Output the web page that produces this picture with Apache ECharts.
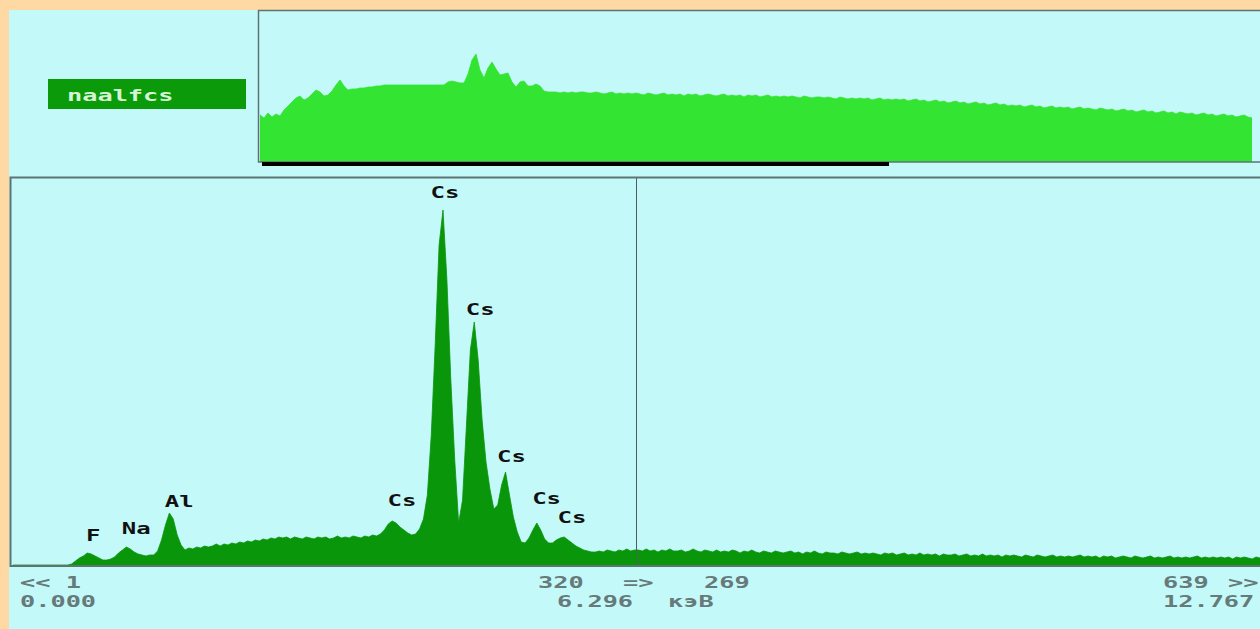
<!DOCTYPE html>
<html><head><meta charset="utf-8">
<script src="https://cdn.jsdelivr.net/npm/echarts@6/dist/echarts.min.js"></script>
<style>
html,body{margin:0;padding:0;background:#FFD9A4;}
#wrap{position:relative;width:1260px;height:629px;background:#FFD9A4;overflow:hidden}
#panel{position:absolute;left:9px;top:10px;width:1251px;height:619px;background:#C4F9F9}
#chart{position:absolute;left:0;top:0;width:1260px;height:629px}
</style></head><body>
<div id="wrap"><div id="panel"></div><div id="chart"></div></div>
<script>
// ---- data ----
const spectrumName = 'naalfcs';
const channelStep = 2;          // one value per 2 channels, channel 1..639
const mainCounts = [
 0,0,0,0,0,0,0,0,0,0,
 0,0,0,0,0,1,4,7,9,12,
 11,9,7,5,5,6,8,12,15,18,
 16,13,11,10,9,10,10,14,25,40,
 52,46,30,20,15,17,16,18,17,19,
 18,19,21,19,21,20,22,21,23,22,
 24,23,25,24,26,25,27,26,28,27,
 28,26,28,27,26,28,27,26,28,27,
 28,26,27,29,27,28,27,29,28,27,
 29,28,30,29,31,35,41,44,42,38,
 35,32,30,31,36,46,70,130,220,320,
 355,285,185,105,42,65,140,215,243,205,
 145,103,76,56,60,80,93,70,48,33,
 23,22,27,35,42,35,26,22,22,25,
 27,28,25,22,19,17,15,14,13,13,
 14,13,15,14,13,15,14,16,14,15,
 15,14,16,14,15,13,15,14,16,14,
 14,15,13,14,16,14,13,15,14,13,
 15,13,14,13,15,14,12,14,13,15,
 13,12,14,13,12,14,13,12,13,14,
 12,13,11,13,12,14,12,11,13,12,
 12,11,13,12,11,12,13,11,12,11,
 12,11,10,12,11,12,10,11,12,10,
 11,10,12,10,11,10,11,9,11,10,
 10,11,9,10,11,9,10,9,11,9,
 10,9,10,8,10,9,10,9,8,10,
 9,8,10,9,8,9,10,8,9,8,
 9,8,9,10,8,9,8,9,7,9,
 8,9,7,8,9,8,7,9,8,7,
 8,9,7,8,7,8,9,7,8,7,
 8,7,8,9,7,8,7,8,7,8,
 7,8,6,8,7,8,7,6,8,7
];
const overviewCounts = [
 47,44,49,45,48,46,
 52,56,60,64,66,
 62,64,68,72,70,66,67,71,77,
 82,76,72,73,73,74,74,75,75,76,76,
 77,77,77,77,77,77,77,77,77,77,77,77,77,77,77,77,
 80,81,80,79,79,
 88,102,108,92,84,94,100,93,87,88,89,
 80,75,80,81,76,76,78,76,71,70,
 70,70,69,70,69,70,69,70,70,69,
 69,70,69,68,69,70,68,69,68,69,
 68,69,68,67,69,68,67,68,69,67,
 68,67,68,66,68,67,68,66,67,68,
 67,66,67,68,66,67,66,67,65,67,
 66,67,65,66,67,65,66,65,66,65,
 66,65,64,66,65,64,65,65,
 64,65,64,63,65,64,63,64,63,64,
 63,64,62,63,64,62,63,62,63,62,
 63,61,62,63,61,62,60,61,62,60,
 61,59,60,61,59,60,58,59,60,58,
 59,57,58,59,57,58,56,57,56,57,
 55,56,57,55,56,54,55,56,54,55,
 54,55,53,54,55,53,54,53,52,54,
 53,52,53,51,52,53,51,52,50,51,
 52,50,51,49,50,51,49,50,48,50,
 49,48,49,47,48,49,47,48,46,47,
 48,46,47,45,46,47,45,44
];
const peakLabels        = ['F','Na','Al','Cs','Cs','Cs','Cs','Cs','Cs'];
const peakLabelChannels = [42, 64, 86, 200, 222, 240, 256, 274, 287];
const peakLabelLevels   = [29, 36, 63, 64, 372, 255, 108, 66, 47];
const markerChannel = 320;
const channelTickLabels = ['<< 1','320','=>','269','639','>>'];
const energyTickLabels  = ['0.000','6.296','кэВ','12.767'];

// ---- layout / style ----
const FONT = 'bold 16px "DejaVu Sans Mono", "Liberation Mono", monospace';
const SX = 1.58;
const grayText = '#667A7A';
const border = '#5C7474';
const chLeft = [20, 538, 623, 704, 1163, 1228];
const enLeft = [20, 557, 668, 1163];

function txt(t, x, y, fill, align){
  return {type:'text', x:x, y:y, scaleX:SX, z:50, silent:true,
    style:{text:t, font:FONT, fill:fill, align:align||'left', verticalAlign:'middle',
           textAlign:align||'left', textVerticalAlign:'middle'}};
}

const graphics = [
  {type:'polyline', z:40, silent:true, shape:{points:[[1262,10.5],[258.5,10.5],[258.5,162],[1262,162]]}, style:{stroke:border, lineWidth:1.5, fill:null}},
  {type:'rect', z:41, silent:true, shape:{x:262, y:162, width:627, height:4}, style:{fill:'#000'}},
  {type:'rect', z:40, silent:true, shape:{x:48, y:79, width:198, height:30}, style:{fill:'#0A9A0A'}},
  txt(spectrumName, 67, 95, '#D4F4D4'),
  {type:'polyline', z:40, silent:true, shape:{points:[[1262,177.5],[10.5,177.5],[10.5,566],[1262,566]]}, style:{stroke:border, lineWidth:2, fill:null}}
];
channelTickLabels.forEach((t,k)=>graphics.push(txt(t, chLeft[k], 582, grayText)));
energyTickLabels.forEach((t,k)=>graphics.push(txt(t, enLeft[k], 601, grayText)));

const chart = echarts.init(document.getElementById('chart'), null, {renderer:'svg', width:1260, height:629});
chart.setOption({
  animation:false,
  backgroundColor:'transparent',
  grid:[
    {left:260, top:11, width:992, height:151},
    {left:13, top:178, right:0, bottom:64}
  ],
  xAxis:[
    {gridIndex:0, type:'category', boundaryGap:false, data:overviewCounts.map((v,i)=>i), show:false},
    {gridIndex:1, type:'value', min:1, max:639, show:false}
  ],
  yAxis:[
    {gridIndex:0, type:'value', min:0, max:151, show:false},
    {gridIndex:1, type:'value', min:0, max:387, show:false}
  ],
  graphic: graphics,
  series:[
    {type:'line', xAxisIndex:0, yAxisIndex:0, data:overviewCounts, symbol:'none', silent:true,
     lineStyle:{width:0.8, color:'#33E433'}, areaStyle:{color:'#33E433', opacity:1}},
    {type:'line', xAxisIndex:1, yAxisIndex:1, data:mainCounts.map((v,i)=>[1+channelStep*i, v]),
     symbol:'none', silent:true,
     lineStyle:{width:0.8, color:'#0A960A'}, areaStyle:{color:'#0A960A', opacity:1},
     markLine:{symbol:['none','none'], silent:true, label:{show:false},
       lineStyle:{color:'#4E5E5E', width:1, type:'solid'}, data:[{xAxis:markerChannel}]}},
    {type:'custom', xAxisIndex:1, yAxisIndex:1, silent:true, clip:false, z:10,
     data: peakLabelChannels.map((c,k)=>[c, peakLabelLevels[k], k]),
     renderItem:function(params, api){
       const p = api.coord([api.value(0), api.value(1)]);
       const k = api.value(2);
       return {type:'text', x:p[0], y:p[1], scaleX:1.5,
         style:{text:peakLabels[k], font:FONT, fill:'#111',
                align:'center', verticalAlign:'middle', textAlign:'center', textVerticalAlign:'middle'}};
     }}
  ]
});
</script>
</body></html>
